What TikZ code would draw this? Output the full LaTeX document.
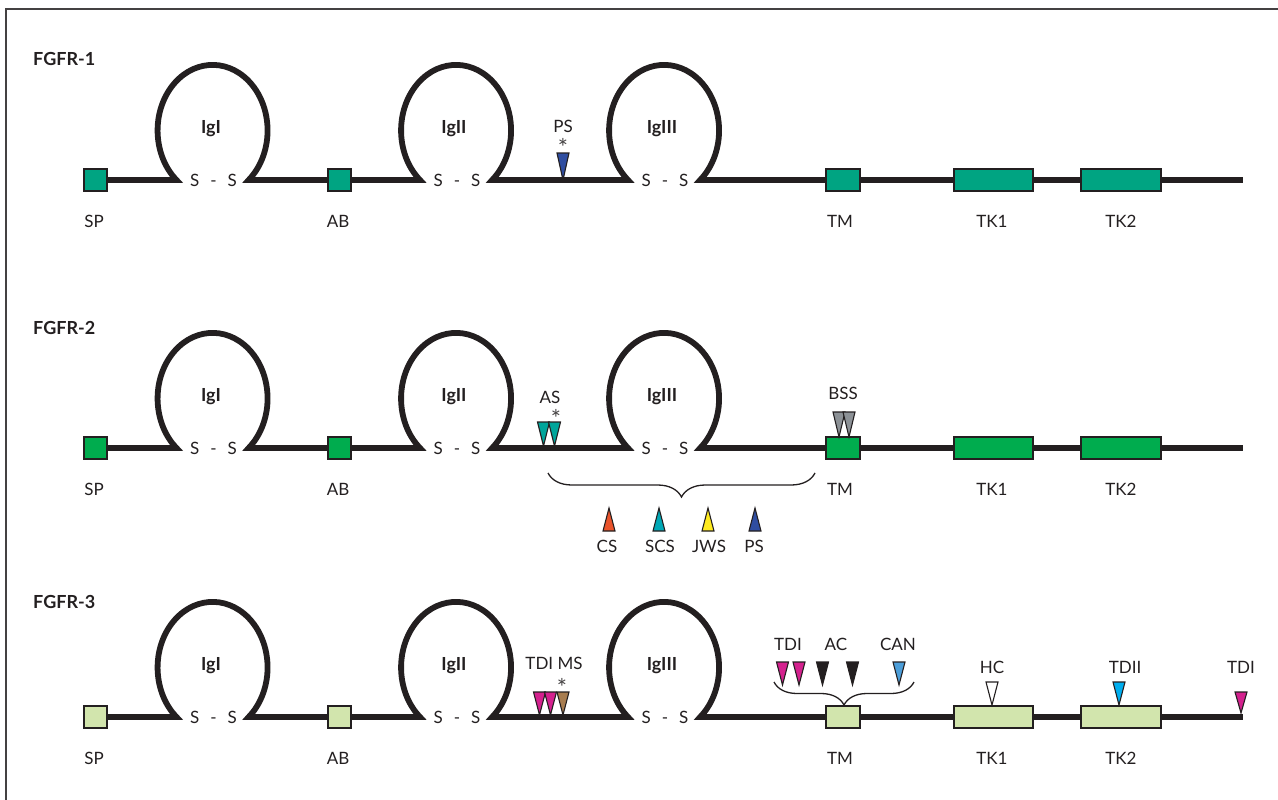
\documentclass[tikz,border=0pt]{standalone}
\usepackage{fontspec}
\setmainfont{Lato}
\usetikzlibrary{decorations.pathreplacing,backgrounds}

\definecolor{ink}{HTML}{231F20}
\definecolor{tealA}{HTML}{00A482}
\definecolor{greenB}{HTML}{00AC4E}
\definecolor{paleC}{HTML}{D2E5AD}
\definecolor{psblue}{HTML}{2F4DA0}
\definecolor{asteal}{HTML}{00A59B}
\definecolor{bssgray}{HTML}{8C9196}
\definecolor{csred}{HTML}{E9532B}
\definecolor{scscyan}{HTML}{00A8B6}
\definecolor{jwsyellow}{HTML}{FFEB1F}
\definecolor{tdmag}{HTML}{D4218E}
\definecolor{msbrown}{HTML}{A87D50}
\definecolor{canblue}{HTML}{4C9ED9}
\definecolor{tdcyan}{HTML}{00AEEF}

% filled mutation marker: colour, x, y of base, y of tip
\newcommand{\dtri}[4]{\filldraw[tri, fill=#1] (#2-6,#3) -- (#2+6,#3) -- (#2,#4) -- cycle;}

% immunoglobulin-like loop drawn from its left foot
\newcommand{\igloop}{arc[start angle=131, end angle=409, x radius=55, y radius=65.6]}

% one receptor: baseline y, domain fill colour, name suffix
\newcommand{\receptor}[3]{%
  \node[dombox, fill=#2, minimum width=23pt] (SP#3) at (95.5,#1) {};
  \node[dombox, fill=#2, minimum width=23pt] (AB#3) at (339.5,#1) {};
  \node[dombox, fill=#2, minimum width=34pt] (TM#3) at (843,#1) {};
  \node[dombox, fill=#2, minimum width=79pt] (TKa#3) at (993.5,#1) {};
  \node[dombox, fill=#2, minimum width=80pt] (TKb#3) at (1121,#1) {};
  \coordinate (C#3) at (1243,#1);
  \begin{scope}[on background layer]
    \draw[chain] (SP#3.east) -- (176.5,#1) \igloop -- (AB#3.west);
    \draw[chain] (AB#3.east) -- (420,#1) \igloop -- (628,#1) \igloop -- (TM#3.west);
    \draw[chain] (TM#3.east) -- (TKa#3.west);
    \draw[chain] (TKa#3.east) -- (TKb#3.west);
    \draw[chain] (TKb#3.east) -- (C#3);
  \end{scope}
  \node[iglbl] (IgI#3)   at (211,#1-51) {IgI};
  \node[iglbl] (IgII#3)  at (454,#1-51) {IgII};
  \node[iglbl] (IgIII#3) at (662,#1-51) {IgIII};
  \node[lbl] (SSa#3) at (213.5,#1) {S\hspace{11pt}-\hspace{11pt}S};
  \node[lbl] (SSb#3) at (457,#1) {S\hspace{11pt}-\hspace{11pt}S};
  \node[lbl] (SSc#3) at (665,#1) {S\hspace{11pt}-\hspace{11pt}S};
  \node[lbl] (SPl#3) at (94,#1+41) {SP};
  \node[lbl] (ABl#3) at (338,#1+41) {AB};
  \node[lbl] (TMl#3) at (840,#1+41) {TM};
  \node[lbl] (TKal#3) at (992,#1+41) {TK1};
  \node[lbl] (TKbl#3) at (1121,#1+41) {TK2};
}

\begin{document}
\begin{tikzpicture}[x=1pt,y=-1pt,
  chain/.style={line width=5.8pt, draw=ink},
  dombox/.style={draw=ink, line width=1.6pt, inner sep=0pt, minimum height=22pt},
  lbl/.style={font=\fontsize{17}{19}\selectfont, text=ink, inner sep=0pt},
  iglbl/.style={font=\fontsize{18}{20}\selectfont\bfseries, text=ink, inner sep=0pt},
  rowlbl/.style={font=\fontsize{18}{21}\selectfont\bfseries, text=ink, inner sep=0pt, anchor=west},
  star/.style={font=\fontsize{24}{26}\selectfont, text=ink!85, inner sep=0pt},
  tri/.style={draw=ink, line width=1.1pt, line join=miter},
  brc/.style={draw=ink, line width=1.3pt, decorate, decoration={brace, mirror, amplitude=#1}}
]
\useasboundingbox (0,0) rectangle (1278,800);
\draw[ink!85, line width=1.4pt] (6,800) -- (6,9) -- (1278,9);

% ---------------- FGFR-1 ----------------
\node[rowlbl] (R1) at (33,59) {FGFR-1};
\receptor{180}{tealA}{1}
\dtri{psblue}{563}{153}{180}
\node[star] (st1) at (563,147) {*};
\node[lbl] (PS1) at (563,126) {PS};

% ---------------- FGFR-2 ----------------
\node[rowlbl] (R2) at (33,328) {FGFR-2};
\receptor{448}{greenB}{2}
\dtri{asteal}{543.5}{422}{446}
\dtri{asteal}{554.5}{422}{446}
\node[star] (st2) at (556,418) {*};
\node[lbl] (AS2) at (550,397) {AS};
\dtri{bssgray}{839}{412}{437}
\dtri{bssgray}{849}{412}{437}
\node[lbl] (BSS2) at (843,393) {BSS};
\coordinate (bL2) at (548,473);
\coordinate (bR2) at (815,473);
\draw[brc=24] (bL2) -- (bR2);
\dtri{csred}{609}{531}{508}
\dtri{scscyan}{659}{531}{508}
\dtri{jwsyellow}{708}{531}{508}
\dtri{psblue}{755}{531}{508}
\node[lbl] (CS2)  at (607,546) {CS};
\node[lbl] (SCS2) at (660,546) {SCS};
\node[lbl] (JWS2) at (709,546) {JWS};
\node[lbl] (PS2)  at (754,546) {PS};

% ---------------- FGFR-3 ----------------
\node[rowlbl] (R3) at (33,602) {FGFR-3};
\receptor{717}{paleC}{3}
\dtri{tdmag}{539.5}{692}{715}
\dtri{tdmag}{550.5}{692}{715}
\dtri{msbrown}{563}{692}{715}
\node[star] (st3) at (562,687) {*};
\node[lbl] (TDMS3) at (554,663) {TDI MS};
\dtri{tdmag}{782.5}{662}{685}
\dtri{tdmag}{799}{662}{685}
\dtri{ink}{822.5}{662}{685}
\dtri{ink}{852.5}{662}{685}
\dtri{canblue}{899}{662}{685}
\node[lbl] (TDa3) at (788,644) {TDI};
\node[lbl] (AC3)  at (836,644) {AC};
\node[lbl] (CAN3) at (898,644) {CAN};
\coordinate (bL3) at (774,682);
\coordinate (bR3) at (914,682);
\draw[brc=23] (bL3) -- (bR3);
\dtri{white}{992}{682}{705}
\node[lbl] (HC3) at (992,667) {HC};
\dtri{tdcyan}{1119}{682}{705}
\node[lbl] (TDII3) at (1125,667) {TDII};
\dtri{tdmag}{1241}{692}{713}
\node[lbl] (TDb3) at (1241,667) {TDI};
\end{tikzpicture}
\end{document}
